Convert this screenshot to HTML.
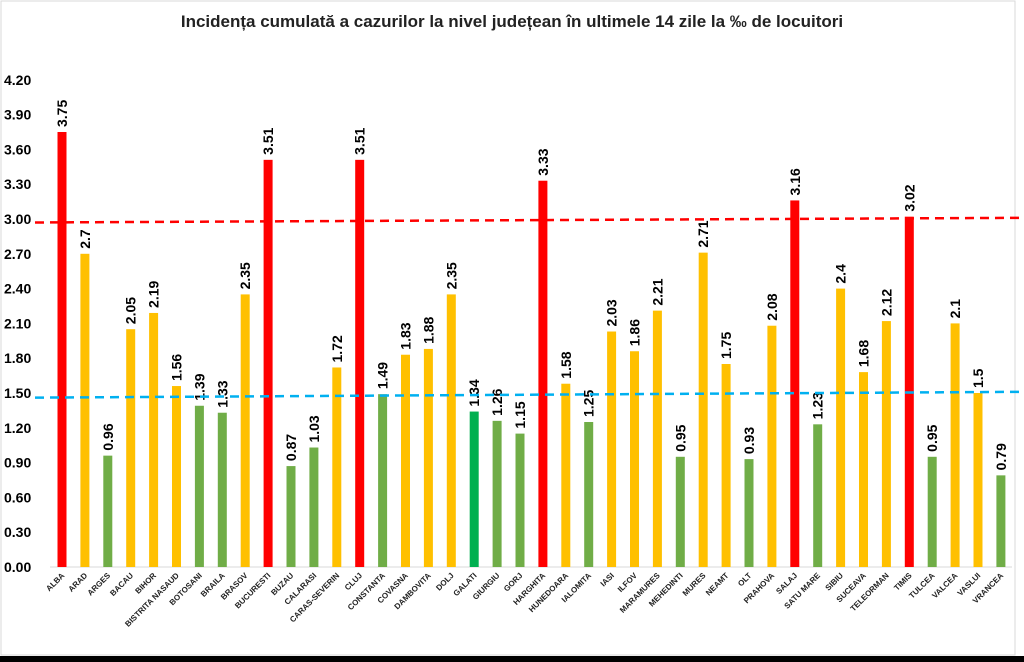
<!DOCTYPE html>
<html><head><meta charset="utf-8"><style>
html,body{margin:0;padding:0;background:#fff;width:1024px;height:662px;overflow:hidden}
svg{display:block;font-family:"Liberation Sans",sans-serif}
</style></head><body>
<svg id="chart" width="1024" height="662" viewBox="0 0 1024 662">
<rect x="1" y="1" width="1014" height="654" fill="#fff" stroke="#d9d9d9"/>
<rect x="0" y="656" width="1024" height="6" fill="#000"/>
<text x="512" y="27" text-anchor="middle" font-size="17" font-weight="bold" fill="#222">Incidența cumulată a cazurilor la nivel județean în ultimele 14 zile la ‰ de locuitori</text>
<g id="g"></g>
</svg>
<script>
const categories=["ALBA","ARAD","ARGES","BACAU","BIHOR","BISTRITA NASAUD","BOTOSANI","BRAILA","BRASOV","BUCURESTI","BUZAU","CALARASI","CARAS-SEVERIN","CLUJ","CONSTANTA","COVASNA","DAMBOVITA","DOLJ","GALATI","GIURGIU","GORJ","HARGHITA","HUNEDOARA","IALOMITA","IASI","ILFOV","MARAMURES","MEHEDINTI","MURES","NEAMT","OLT","PRAHOVA","SALAJ","SATU MARE","SIBIU","SUCEAVA","TELEORMAN","TIMIS","TULCEA","VALCEA","VASLUI","VRANCEA"];
const values=[3.75,2.7,0.96,2.05,2.19,1.56,1.39,1.33,2.35,3.51,0.87,1.03,1.72,3.51,1.49,1.83,1.88,2.35,1.34,1.26,1.15,3.33,1.58,1.25,2.03,1.86,2.21,0.95,2.71,1.75,0.93,2.08,3.16,1.23,2.4,1.68,2.12,3.02,0.95,2.1,1.5,0.79];
const labels=["3.75","2.7","0.96","2.05","2.19","1.56","1.39","1.33","2.35","3.51","0.87","1.03","1.72","3.51","1.49","1.83","1.88","2.35","1.34","1.26","1.15","3.33","1.58","1.25","2.03","1.86","2.21","0.95","2.71","1.75","0.93","2.08","3.16","1.23","2.4","1.68","2.12","3.02","0.95","2.1","1.5","0.79"];
const yTicks=[0,0.3,0.6,0.9,1.2,1.5,1.8,2.1,2.4,2.7,3.0,3.3,3.6,3.9,4.2];
const redThreshold=[2.97,3.01];
const blueThreshold=[1.46,1.51];
const highlight=["GALATI"];
const NS="http://www.w3.org/2000/svg";
const g=document.getElementById('g');
const y=v=>567-v*116;
const x=i=>62+i*22.9;
function mk(t,a,p){const e=document.createElementNS(NS,t);for(const k in a)e.setAttribute(k,a[k]);(p||g).appendChild(e);return e;}
yTicks.forEach(v=>{const t=mk('text',{x:4,y:y(v)+5,'font-size':14,'font-weight':'bold',fill:'#000'});t.textContent=v.toFixed(2);

});
const ax=mk('line',{x1:50,x2:1012,y1:567,y2:567,stroke:'#d9d9d9'});


function col(i,v){if(highlight.includes(categories[i]))return '#00b050';if(v>=3)return '#ff0000';if(v>=1.5)return '#ffc000';return '#70ad47';}
categories.forEach((c,i)=>{const v=values[i];
const b=mk('rect',{x:x(i)-4.5,y:y(v),width:9,height:567-y(v),fill:col(i,v)});


const lx=x(i)+5,ly=y(v)-5;
const t=mk('text',{x:lx,y:ly,transform:`rotate(-90 ${lx} ${ly})`,'font-size':14,'font-weight':'bold',fill:'#000'});t.textContent=labels[i];


const cx=x(i)+3,cy=576;
const n=mk('text',{x:cx,y:cy,transform:`rotate(-45 ${cx} ${cy})`,'font-size':8,'font-weight':'bold','text-anchor':'end',fill:'#222'});n.textContent=c;

});
const r=mk('line',{x1:35,x2:1020,y1:y(redThreshold[0]),y2:y(redThreshold[1]),stroke:'#ff0000','stroke-width':2.5,'stroke-dasharray':'9,6'});


const bl=mk('line',{x1:35,x2:1020,y1:y(blueThreshold[0]),y2:y(blueThreshold[1]),stroke:'#00b0f0','stroke-width':2.5,'stroke-dasharray':'9,6'});


</script>
</body></html>
